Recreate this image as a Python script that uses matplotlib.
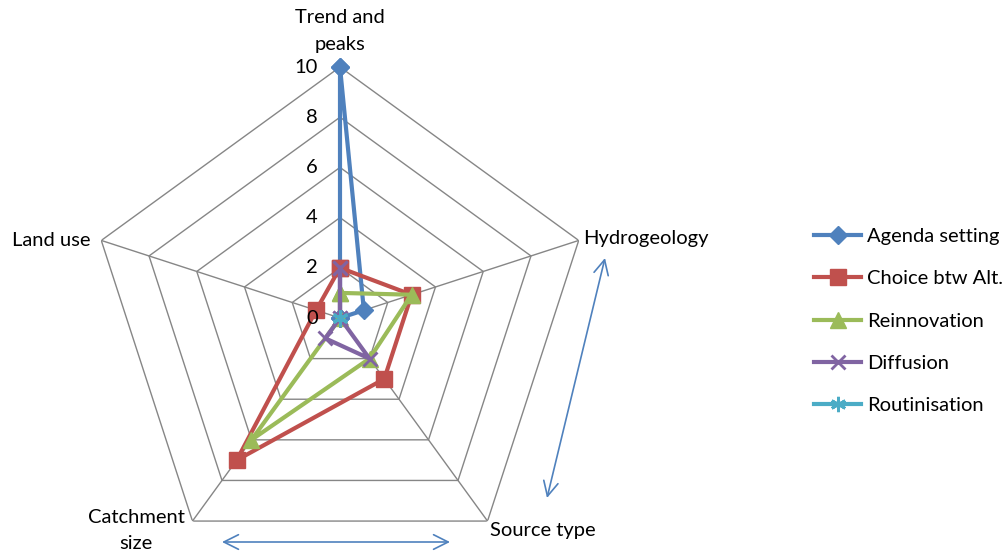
import numpy as np
import matplotlib
matplotlib.use("Agg")
import matplotlib.pyplot as plt
from matplotlib.lines import Line2D
from matplotlib.patches import FancyArrowPatch
import matplotlib.transforms as mtransforms

plt.rcParams['font.family'] = ['Lato', 'DejaVu Sans']

categories = ["Trend and\npeaks", "Hydrogeology", "Source type", "Catchment\nsize", "Land use"]
series_names = ["Agenda setting", "Choice btw Alt.", "Reinnovation", "Diffusion", "Routinisation"]
agenda_setting = [10, 1, 0, 0, 0]
choice_btw_alt = [2, 3, 3, 7, 1]
reinnovation = [1, 3, 2, 6, 0]
diffusion = [2, 0, 2, 1, 0]
routinisation = [0, 0, 0, 0, 0]
radial_ticks = [0, 2, 4, 6, 8, 10]

series_values = [agenda_setting, choice_btw_alt, reinnovation, diffusion, routinisation]
colors = ["#4F81BD", "#C0504D", "#9BBB59", "#8064A2", "#4BACC6"]
markers = ["D", "s", "^", "x", (6, 2, 0)]
msizes = [9.5, 11, 11.5, 10, 11]

W, H = 1008, 553
fig = plt.figure(figsize=(W / 100, H / 100), dpi=100)
cx, cy, R = 340, 318, 251
ax = fig.add_axes([(cx - R) / W, 1 - (cy + R) / H, 2 * R / W, 2 * R / H], projection="polar")
ax.set_theta_offset(np.pi / 2)
ax.set_theta_direction(-1)
ax.set_ylim(0, 10)
ax.axis("off")

n = len(categories)
theta = np.arange(n) * 2 * np.pi / n
theta_closed = np.append(theta, theta[0])

# pentagonal grid and spokes
grid_kw = dict(color="#868686", lw=1.0, zorder=1)
for r in radial_ticks[1:]:
    ax.plot(theta_closed, [r] * (n + 1), **grid_kw)
for t in theta:
    ax.plot([t, t], [0, radial_ticks[-1]], **grid_kw)


def marker_edge(m):
    return 2 if m == "x" or isinstance(m, tuple) else 1


for vals, name, c, m, ms in zip(series_values, series_names, colors, markers, msizes):
    v = np.append(vals, vals[0])
    ax.plot(theta_closed, v, color=c, lw=3.0, marker=m, markersize=ms,
            markeredgewidth=marker_edge(m), markeredgecolor=c, markerfacecolor=c,
            label=name, zorder=3, clip_on=False)

fs = 14.5

# radial scale labels to the left of the top spoke
off = mtransforms.offset_copy(ax.transData, fig=fig, x=-22, y=0, units="dots")
for r in radial_ticks:
    ax.text(0, r, str(r), transform=off, ha="right", va="center", fontsize=fs)

lab_pos = [
    dict(dx=0, dy=36, ha="center"),
    dict(dx=4, dy=2, ha="left"),
    dict(dx=2, dy=-9, ha="left"),
    dict(dx=-8, dy=-9, ha="right"),
    dict(dx=-11, dy=0, ha="right"),
]
for t, lab, p in zip(theta, categories, lab_pos):
    tr = mtransforms.offset_copy(ax.transData, fig=fig, x=p["dx"], y=p["dy"], units="dots")
    ax.text(t, 10, lab, transform=tr, ha=p["ha"], va="center", fontsize=fs,
            multialignment="center", linespacing=1.65)

handles = [Line2D([0], [0], color=c, lw=3.0, marker=m, markersize=ms,
                  markeredgewidth=marker_edge(m), markeredgecolor=c, markerfacecolor=c)
           for c, m, ms in zip(colors, markers, msizes)]
fig.legend(handles, series_names, loc="upper left", bbox_to_anchor=(814 / W, 1 - 228 / H),
           frameon=False, fontsize=fs, handlelength=2.35, handletextpad=0.3,
           labelspacing=1.25, borderpad=0, borderaxespad=0)

# double-headed annotation arrows
arrow_kw = dict(arrowstyle="<->,head_length=0.7,head_width=0.35", color="#4F81BD",
                lw=1.2, mutation_scale=15, shrinkA=0, shrinkB=0)
fig.add_artist(FancyArrowPatch((222 / W, 1 - 542 / H), (450 / W, 1 - 542 / H),
                               transform=fig.transFigure, **arrow_kw))
fig.add_artist(FancyArrowPatch((605 / W, 1 - 258 / H), (547 / W, 1 - 498 / H),
                               transform=fig.transFigure, **arrow_kw))

fig.savefig("out.png", dpi=100)
